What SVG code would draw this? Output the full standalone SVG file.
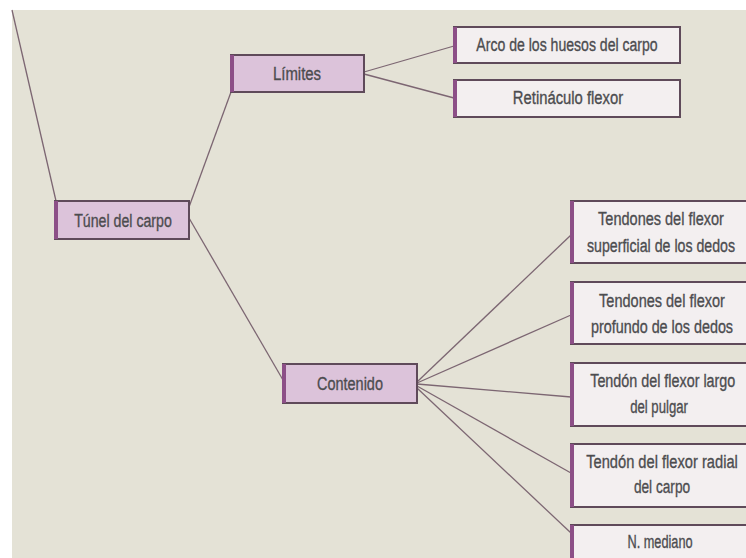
<svg xmlns="http://www.w3.org/2000/svg" width="746" height="558" viewBox="0 0 746 558">
  <style>
    .bg { fill: #e4e2d6; }
    .edge { stroke: #7c6672; stroke-width: 1.3; fill: none; }
    .main rect { fill: #dcc3da; stroke: #5f4a5a; stroke-width: 2; }
    .leaf rect { fill: #f3eff0; stroke: #5f4a5a; stroke-width: 2; }
    .bar { stroke: #8c4f87; stroke-width: 4; }
    text { font-family: "Liberation Sans", Arial, sans-serif; font-size: 19px; fill: #4c4c4f; stroke: #4c4c4f; stroke-width: 0.35; text-anchor: middle; }
  </style>

  <!-- paper with a white margin on the top and left -->
  <rect x="0" y="0" width="746" height="558" fill="#ffffff"/>
  <rect class="bg" x="12" y="10" width="734" height="548"/>

  <g id="connectors">
    <line class="edge" x1="12" y1="10" x2="56" y2="201"/>
    <line class="edge" x1="189" y1="207" x2="231" y2="92"/>
    <line class="edge" x1="189" y1="218" x2="283" y2="380"/>
    <line class="edge" x1="364" y1="72" x2="454" y2="46"/>
    <line class="edge" x1="364" y1="74" x2="454" y2="98"/>
    <line class="edge" x1="417" y1="382" x2="571" y2="235"/>
    <line class="edge" x1="417" y1="383" x2="571" y2="315"/>
    <line class="edge" x1="417" y1="384" x2="571" y2="397"/>
    <line class="edge" x1="417" y1="386" x2="571" y2="473"/>
    <line class="edge" x1="417" y1="388" x2="571" y2="533"/>
  </g>

  <!-- labels are set in a condensed face: horizontally squeezed sans -->
  <g id="tunel" class="main">
    <rect x="55" y="201" width="134" height="38"/>
    <line class="bar" x1="56" y1="201" x2="56" y2="239"/>
    <g transform="translate(123 0) scale(0.74 1)">
      <text x="0" y="227" textLength="132" lengthAdjust="spacingAndGlyphs">Túnel del carpo</text>
    </g>
  </g>

  <g id="limites" class="main">
    <rect x="231" y="55" width="133" height="37"/>
    <line class="bar" x1="232" y1="55" x2="232" y2="92"/>
    <g transform="translate(297 0) scale(0.74 1)">
      <text x="0" y="80" textLength="65" lengthAdjust="spacingAndGlyphs">Límites</text>
    </g>
  </g>

  <g id="arco" class="leaf">
    <rect x="454" y="27" width="226" height="36"/>
    <line class="bar" x1="455" y1="27" x2="455" y2="63"/>
    <g transform="translate(567 0) scale(0.74 1)">
      <text x="0" y="51" textLength="245" lengthAdjust="spacingAndGlyphs">Arco de los huesos del carpo</text>
    </g>
  </g>

  <g id="retinaculo" class="leaf">
    <rect x="454" y="80" width="226" height="37"/>
    <line class="bar" x1="455" y1="80" x2="455" y2="117"/>
    <g transform="translate(568 0) scale(0.74 1)">
      <text x="0" y="104" textLength="149" lengthAdjust="spacingAndGlyphs">Retináculo flexor</text>
    </g>
  </g>

  <g id="contenido" class="main">
    <rect x="283" y="364" width="134" height="39"/>
    <line class="bar" x1="284" y1="364" x2="284" y2="403"/>
    <g transform="translate(350 0) scale(0.74 1)">
      <text x="0" y="390" textLength="89" lengthAdjust="spacingAndGlyphs">Contenido</text>
    </g>
  </g>

  <g id="superficial" class="leaf">
    <rect x="571" y="201" width="182" height="62"/>
    <line class="bar" x1="572" y1="201" x2="572" y2="263"/>
    <g transform="translate(661 0) scale(0.74 1)">
      <text x="0" y="225" textLength="170" lengthAdjust="spacingAndGlyphs">Tendones del flexor</text>
      <text x="0" y="252" textLength="200" lengthAdjust="spacingAndGlyphs">superficial de los dedos</text>
    </g>
  </g>

  <g id="profundo" class="leaf">
    <rect x="571" y="282" width="182" height="62"/>
    <line class="bar" x1="572" y1="282" x2="572" y2="344"/>
    <g transform="translate(662 0) scale(0.74 1)">
      <text x="0" y="307" textLength="170" lengthAdjust="spacingAndGlyphs">Tendones del flexor</text>
      <text x="0" y="333" textLength="192" lengthAdjust="spacingAndGlyphs">profundo de los dedos</text>
    </g>
  </g>

  <g id="largo-pulgar" class="leaf">
    <rect x="571" y="363" width="182" height="63"/>
    <line class="bar" x1="572" y1="363" x2="572" y2="426"/>
    <g transform="translate(662 0) scale(0.74 1)">
      <text x="1" y="387" textLength="196" lengthAdjust="spacingAndGlyphs">Tendón del flexor largo</text>
      <text x="-4" y="413" textLength="78" lengthAdjust="spacingAndGlyphs">del pulgar</text>
    </g>
  </g>

  <g id="radial-carpo" class="leaf">
    <rect x="571" y="444" width="182" height="63"/>
    <line class="bar" x1="572" y1="444" x2="572" y2="507"/>
    <g transform="translate(662 0) scale(0.74 1)">
      <text x="0" y="468" textLength="205" lengthAdjust="spacingAndGlyphs">Tendón del flexor radial</text>
      <text x="0" y="493" textLength="76" lengthAdjust="spacingAndGlyphs">del carpo</text>
    </g>
  </g>

  <g id="mediano" class="leaf">
    <rect x="571" y="525" width="182" height="50"/>
    <line class="bar" x1="572" y1="525" x2="572" y2="575"/>
    <g transform="translate(660 0) scale(0.74 1)">
      <text x="0" y="548" textLength="88" lengthAdjust="spacingAndGlyphs">N. mediano</text>
    </g>
  </g>
</svg>
